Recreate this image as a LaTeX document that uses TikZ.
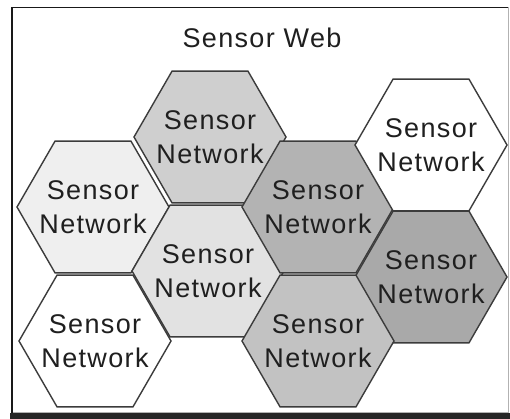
\documentclass[tikz,border=0pt]{standalone}
\usepackage{fontspec}
\setmainfont[LetterSpace=5]{Liberation Sans}
\usetikzlibrary{shapes.geometric}
\definecolor{edgegray}{HTML}{3C3C3C}
\definecolor{shadegA}{HTML}{CFCFCF}
\definecolor{shadegB}{HTML}{EFEFEF}
\definecolor{shadegC}{HTML}{E2E2E2}
\definecolor{shadegE}{HTML}{B3B3B3}
\definecolor{shadegG}{HTML}{A9A9A9}
\definecolor{shadegH}{HTML}{C2C2C2}
\tikzset{
  hexcell/.style={draw=edgegray, line width=1.4pt, regular polygon, regular polygon sides=6,
    minimum size=152pt, inner sep=0pt},
  celltext/.style={align=center, font=\fontsize{27}{34}\selectfont, text=black!88},
}
\begin{document}
\begin{tikzpicture}[x=1pt, y=-1pt]
  \useasboundingbox (0,0) rectangle (510,419);
  \fill[white] (0,0) rectangle (510,419);
  % drop shadow under the frame
  \fill[black!85] (10,413) rectangle (510,419);
  % frame
  \draw[black!30, line width=1pt] (508,7.5) -- (508,412) -- (12,412);
  \draw[black!90, line width=1.8pt] (12,412.5) -- (12,7.5) -- (508,7.5);

  \node[celltext] (title) at (262,38) {Sensor Web};

  % hexagonal cells
  \node[hexcell, fill=shadegA] (hA) at (210,137) {};
  \node[hexcell, fill=shadegB] (hB) at (93,207) {};
  \node[hexcell, fill=shadegC] (hC) at (208,271) {};
  \node[hexcell, fill=white]   (hD) at (95,341) {};
  \node[hexcell, fill=shadegE] (hE) at (318,207) {};
  \node[hexcell, fill=white]   (hF) at (431,145) {};
  \node[hexcell, fill=shadegG] (hG) at (431,277) {};
  \node[hexcell, fill=shadegH] (hH) at (318,341) {};

  % cell labels
  \foreach \c in {hA,hB,hC,hD,hE,hF,hG,hH}
    \node[celltext] (t\c) at (\c.center) {Sensor\\Network};
\end{tikzpicture}
\end{document}
